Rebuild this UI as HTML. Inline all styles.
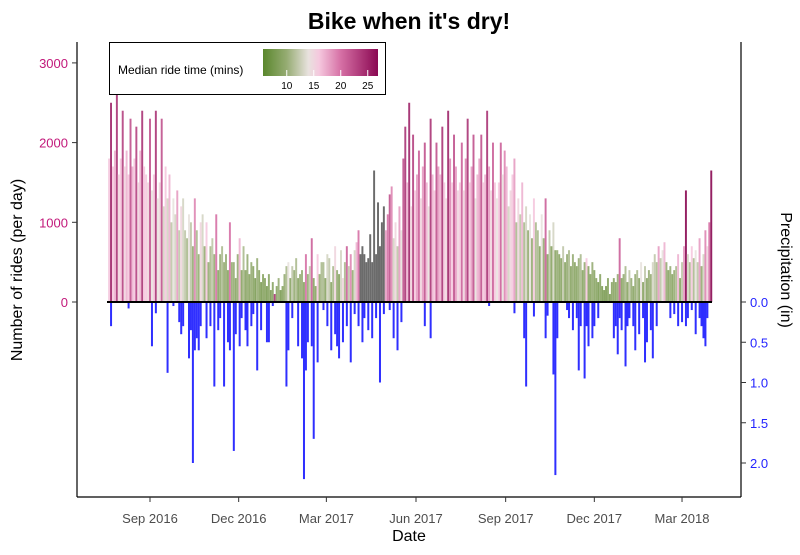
<!DOCTYPE html>
<html><head><meta charset="utf-8"><style>
body{margin:0;background:#fff;width:800px;height:550px;overflow:hidden;font-family:"Liberation Sans",sans-serif}
</style></head><body>
<svg id="chart" width="800" height="550" xmlns="http://www.w3.org/2000/svg" font-family="Liberation Sans, sans-serif">
<text x="409" y="29" text-anchor="middle" font-size="23" font-weight="bold" fill="#000">Bike when it's dry!</text>
<g id="bars"></g>
<g id="rain"></g>
<line x1="107" x2="712" y1="302" y2="302" stroke="#000" stroke-width="2"/>
<line x1="77" x2="77" y1="42" y2="497" stroke="#000" stroke-width="1.2"/>
<line x1="741" x2="741" y1="42" y2="497" stroke="#000" stroke-width="1.2"/>
<line x1="77" x2="741" y1="497" y2="497" stroke="#000" stroke-width="1.2"/>
<g id="axes"></g>
<text x="409" y="541" text-anchor="middle" font-size="16" fill="#000">Date</text>
<text transform="translate(22,270) rotate(-90)" text-anchor="middle" font-size="16" fill="#000">Number of rides (per day)</text>
<text transform="translate(781,270) rotate(90)" text-anchor="middle" font-size="16" fill="#000">Precipitation (in)</text>
<g>
<rect x="109.5" y="42.5" width="276" height="52" fill="#fff" stroke="#000" stroke-width="1"/>
<text x="118" y="74" font-size="12" fill="#000">Median ride time (mins)</text>
<defs><linearGradient id="grad" x1="0" x2="1" y1="0" y2="0"></linearGradient></defs>
<rect x="263" y="49" width="115" height="27" fill="url(#grad)"/>
<g id="legticks"></g>
</g>
</svg>
<script>
const startDay = -43; // days relative to 2016-09-01 (bins of 2 days)
const rides = [
1800,2500,1700,1900,2600,1600,1800,2400,1700,1900,
1600,2300,1700,1800,2200,1500,1900,2400,1700,1600,
1500,2300,1400,1600,2400,1300,1500,2300,1200,1700,
1300,1600,1000,1300,1100,1400,900,1200,1300,900,
800,1100,1000,700,1300,900,600,1000,1100,700,
1000,500,700,800,600,1100,400,600,700,500,
600,400,1000,500,500,300,600,800,400,700,
400,600,350,500,450,300,550,400,250,350,
300,200,350,150,250,100,200,300,150,200,
350,450,500,300,450,400,550,300,350,400,
250,600,350,450,800,300,200,600,350,500,
500,300,600,550,250,450,700,400,350,650,
300,500,700,450,600,400,650,750,900,600,
700,600,500,550,850,500,1650,600,1250,700,
1000,1200,900,1100,1350,1450,800,1000,700,1200,
900,1800,2200,1500,2500,1200,2100,1400,1600,1900,
1300,1700,2000,1500,1200,2300,1600,1400,2000,1700,
1600,2200,1500,1300,2400,1800,1500,2100,1700,1400,
1500,2000,1400,1800,2300,1500,1700,2100,1300,1600,
1800,2100,1500,1600,2400,1700,1400,2000,1500,1300,
1500,2000,1600,1900,1700,1200,1400,1600,1800,1000,
1300,1100,1500,1000,1200,900,1100,800,1300,1000,
900,700,1100,800,1300,600,900,700,1000,650,
650,600,550,700,500,600,650,450,600,500,
450,550,600,400,500,550,450,350,500,400,
300,250,350,200,150,200,300,100,250,300,
250,350,800,300,350,450,250,400,300,200,
350,400,300,500,250,450,300,400,350,500,
600,500,700,550,650,750,500,400,450,350,
400,450,600,300,500,700,1400,600,500,700,
550,650,500,800,450,600,900,700,1000,1650];
const medianTime = [
16,25,16,17,24,15,16,23,15,17,
16,22,17,16,23,15,17,24,16,16,
15,22,14,16,24,14,15,22,13,16,
13,17,12,14,13,18,12,15,13,12,
11,14,12,10,19,11,10,15,13,10,
16,10,11,12,10,20,9,10,11,10,
10,9,20,10,10,9,10,17,9,11,
9,10,9,10,9,8,10,9,8,9,
9,8,9,8,9,24,9,10,8,9,
10,11,14,9,12,10,11,9,10,10,
9,20,10,12,21,9,9,16,10,11,
11,9,13,12,9,11,15,10,9,13,
15,11,21,12,19,10,13,17,20,0,
0,0,0,0,0,0,0,0,0,0,
0,0,18,20,22,19,13,15,12,18,
14,22,24,17,25,15,23,16,18,21,
15,18,22,17,14,24,17,16,22,18,
17,24,16,15,25,19,16,22,18,15,
16,21,15,19,24,16,18,22,14,17,
18,22,16,17,24,18,15,21,16,14,
16,21,14,19,17,13,15,16,18,11,
15,12,17,11,13,10,14,10,16,11,
11,9,14,10,21,9,12,9,13,9,
10,9,9,12,9,10,11,9,10,9,
9,10,11,9,10,16,9,9,10,9,
9,8,9,8,8,8,9,8,9,9,
9,10,21,9,10,11,9,12,10,9,
10,11,9,14,9,12,9,10,10,13,
12,11,18,12,14,17,10,9,10,9,
10,11,17,9,12,18,27,13,11,16,
11,14,12,18,10,13,19,15,20,27];
const precip = [
0,0.3,0,0,0,0,0,0,0,0,
0.08,0,0,0,0,0,0,0,0,0,
0,0,0.55,0,0.14,0,0,0,0,0,
0.88,0,0,0.05,0,0,0.25,0.4,0.3,0,
0,0.7,0.35,2.0,0.6,0.45,0.6,0.3,0,0,
0.45,0,0.3,0,1.05,0,0.35,0.2,0,1.05,
0,0.5,0.6,0,1.85,0.4,0,0.55,0.2,0,
0.35,0.55,0,0.3,0.15,0,0.85,0,0.35,0,
0,0.5,0.5,0,0.05,0,0,0,0,0,
0,1.05,0.6,0,0.2,0,0,0.55,0,0.7,
2.2,0.85,0.5,0,0.55,1.7,0,0.75,0,0,
0.1,0,0.3,0,0.6,0,0.4,0.55,0.7,0,
0.5,0,0.3,0,0.75,0,0.15,0,0.3,0,
0.5,0.2,0,0.35,0,0.45,0,0.2,0,1.0,
0,0.15,0,0,0.1,0,0.45,0,0.6,0,
0.25,0,0,0,0,0,0,0,0,0,
0,0,0.3,0,0,0.45,0,0,0,0,
0,0,0,0,0,0,0,0,0,0,
0,0,0,0,0,0,0,0,0,0,
0,0,0,0,0,0.05,0,0,0,0,
0,0,0,0,0,0,0,0,0.14,0,
0,0,0,0.45,1.05,0,0,0,0.18,0,
0,0,0,0,0.45,0.17,0,0,0.9,2.15,
0.45,0,0,0,0,0.1,0.2,0,0.35,0,
0.2,0.85,0.3,0,0.95,0.3,0.55,0,0.45,0.3,
0,0.2,0,0,0,0,0,0,0,0.45,
0.3,0.65,0.2,0.35,0,0.8,0.3,0.2,0,0.3,
0.6,0,0.4,0,0.2,0.75,0.5,0,0.35,0.7,
0,0.3,0,0,0,0,0,0,0.2,0,
0.15,0,0.3,0,0.25,0,0.3,0.2,0,0.1,
0,0.4,0,0.2,0.3,0.45,0.55,0.2,0,0];
const xTickLabels = ["Sep 2016","Dec 2016","Mar 2017","Jun 2017","Sep 2017","Dec 2017","Mar 2018"];
const xTickDays = [0,91,181,273,365,456,546];
const leftTicks = [0,1000,2000,3000];
const rightTicks = [0.0,0.5,1.0,1.5,2.0];
const legendTicks = [10,15,20,25];

const NS="http://www.w3.org/2000/svg";
const xScale = d => 150 + d*0.9744;
const yRides = v => 302 - v*0.0797;
const yRain = v => 302 + v*80.5;
const legScale = v => 263 + (v-5.6)/(26.9-5.6)*115;
const stops=[[5.6,[90,135,45]],[10,[150,172,115]],[14,[232,226,222]],[16,[245,200,222]],[20,[214,112,165]],[26.9,[138,8,82]]];
function col(v){
  if(!v) return "#6b6b6b";
  v=Math.max(5.6,Math.min(26.9,v));
  for(let i=1;i<stops.length;i++){ if(v<=stops[i][0]){const a=stops[i-1],b=stops[i],t=(v-a[0])/(b[0]-a[0]);
    return "rgb("+a[1].map((c,k)=>Math.round(c+(b[1][k]-c)*t)).join(",")+")";}}
}
function mk(tag,attrs,parent){const e=document.createElementNS(NS,tag);for(const k in attrs)e.setAttribute(k,attrs[k]);parent.appendChild(e);return e;}
const bars=document.getElementById('bars'), rain=document.getElementById('rain'), axes=document.getElementById('axes');
rides.forEach((v,i)=>{
  const d=startDay+2*i, x=xScale(d);
  const r=mk('rect',{x:x.toFixed(2),y:yRides(v).toFixed(2),width:1.95,height:(302-yRides(v)).toFixed(2),fill:col(medianTime[i]),opacity:medianTime[i]?0.9:1},bars);
  
  
});
precip.forEach((v,i)=>{
  if(!v) return;
  const x=xScale(startDay+2*i);
  const r=mk('rect',{x:x.toFixed(2),y:302,width:2,height:(yRain(v)-302).toFixed(2),fill:"#2424ff",opacity:0.95},rain);
  
  
});
xTickDays.forEach((d,i)=>{
  const x=xScale(d);
  const t=mk('line',{x1:x,x2:x,y1:497,y2:502,stroke:"#333"},axes);
  
  
  const l=mk('text',{x:x,y:523,'text-anchor':'middle','font-size':13,fill:'#4d4d4d'},axes);
  l.textContent=xTickLabels[i];
  
  
});
leftTicks.forEach(v=>{
  const y=yRides(v);
  const t=mk('line',{x1:72,x2:77,y1:y,y2:y,stroke:"#333"},axes);
  
  
  const l=mk('text',{x:68,y:y+5,'text-anchor':'end','font-size':13,fill:'#c2187a'},axes);
  l.textContent=v;
  
  
});
rightTicks.forEach(v=>{
  const y=yRain(v);
  const t=mk('line',{x1:741,x2:746,y1:y,y2:y,stroke:"#333"},axes);
  
  
  const l=mk('text',{x:750,y:y+5,'font-size':13,fill:'#2424ff'},axes);
  l.textContent=v.toFixed(1);
  
  
});
const g=document.getElementById('grad');
stops.forEach(s=>{mk('stop',{offset:((s[0]-5.6)/(26.9-5.6)*100)+"%",'stop-color':"rgb("+s[1].join(",")+")"},g);});
const lt=document.getElementById('legticks');
legendTicks.forEach(v=>{
  const x=legScale(v);
  mk('line',{x1:x,x2:x,y1:70,y2:76,stroke:"#fff"},lt);
  const l=mk('text',{x:x,y:89,'text-anchor':'middle','font-size':10,fill:'#000'},lt);
  l.textContent=v;
  
  
});
</script>
</body></html>
